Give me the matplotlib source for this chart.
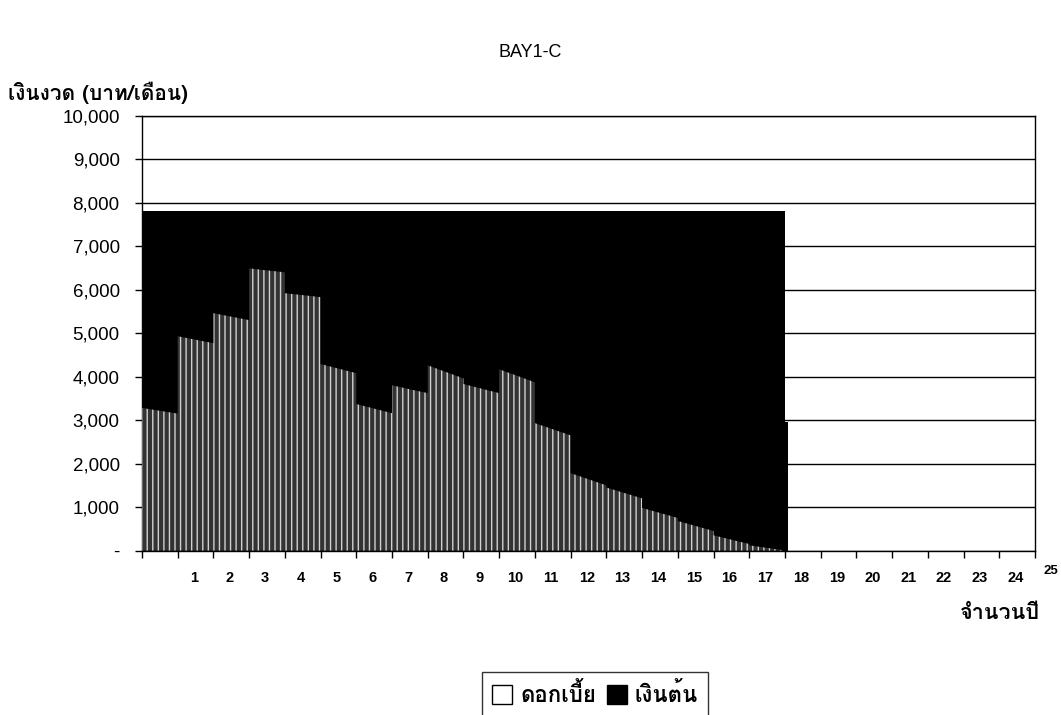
import numpy as np
import matplotlib
matplotlib.use('Agg')
import matplotlib.pyplot as plt
from matplotlib import font_manager, ft2font
from matplotlib.patches import Patch

# monthly payment split, read per year: interest at start and end of each year (baht/month)
years = np.arange(18)
interest_start = [3280, 4930, 5460, 6490, 5920, 4290, 3370, 3800, 4260, 3830, 4170, 2930, 1780, 1450, 980, 680, 350, 120]
interest_end = [3150, 4770, 5300, 6400, 5830, 4080, 3160, 3620, 3960, 3620, 3870, 2650, 1500, 1200, 750, 450, 150, 0]
payment = 7800          # fixed installment
last_payment = 2950     # final installment
loan_years = 18
x_labels = [str(k) for k in range(1, 26)]
y_ticks = np.arange(0, 10001, 1000)


def thai_font():
    # first installed face that carries Thai glyphs
    for f in font_manager.fontManager.ttflist:
        try:
            if 0x0E40 in ft2font.FT2Font(f.fname).get_charmap():
                return f.name
        except Exception:
            pass
    return 'DejaVu Sans'


thai = [thai_font(), 'Liberation Sans', 'DejaVu Sans']
plt.rcParams['font.family'] = ['Liberation Sans', 'DejaVu Sans']
plt.rcParams['hatch.linewidth'] = 1.0

fig = plt.figure(figsize=(10.61, 7.15), dpi=100)
ax = fig.add_axes([0.1338, 0.230, 0.8417, 0.608])

# principal (black) sits under the interest band
ax.fill_between([0, loan_years], [payment, payment], color='black', lw=0, zorder=2)
ax.fill_between([loan_years, loan_years + 1 / 12], [last_payment, last_payment],
                color='black', lw=0, zorder=2)

xs, ys = [], []
for i in years:
    xs += [i, i + 1]
    ys += [interest_start[i], interest_end[i]]
ax.fill_between(xs, ys, facecolor='#333333', edgecolor='#d0d0d0', hatch='|||',
                lw=0, zorder=3)

ax.set_xlim(0, 25)
ax.set_ylim(0, 10000)
ax.set_yticks(y_ticks)
ax.set_yticklabels(['-'] + [f'{v:,}' for v in y_ticks[1:]], fontsize=13.5)
ax.set_xticks(np.arange(0, 26))
ax.set_xticklabels([])
ax.tick_params(axis='both', direction='out', length=5, width=1, colors='black')
ax.tick_params(axis='y', pad=11)

ax.set_axisbelow(True)
ax.yaxis.grid(True, color='black', lw=1)
for s in ax.spines.values():
    s.set_color('black')
    s.set_linewidth(1)

# year labels sit right of each tick
for k, lab in enumerate(x_labels, start=1):
    yoff = -0.064 if k < 25 else -0.046
    ax.text(k + 0.45, yoff, lab, transform=ax.get_xaxis_transform(), ha='center',
            va='center', fontsize=10.5 if k < 25 else 9.5, fontweight='bold', clip_on=False)

fig.text(0.5, 0.926, 'BAY1-C', ha='center', va='center', fontsize=13)
fig.text(0.008, 0.870, 'เงินงวด (บาท/เดือน)', ha='left', va='center', fontsize=15,
         fontweight='bold', family=thai)
fig.text(0.980, 0.143, 'จำนวนปี', ha='right', va='center', fontsize=15.5,
         fontweight='bold', family=thai)

handles = [Patch(facecolor='white', edgecolor='black', lw=1),
           Patch(facecolor='black', edgecolor='black', lw=1)]
leg = fig.legend(handles, ['ดอกเบี้ย', 'เงินต้น'], loc='upper center',
                 bbox_to_anchor=(0.561, 0.060), ncol=2, frameon=True, fancybox=False,
                 edgecolor='black', handlelength=0.9, handleheight=0.9,
                 handletextpad=0.35, columnspacing=0.5, borderpad=0.45, borderaxespad=0,
                 prop={'family': thai, 'weight': 'bold', 'size': 16})
leg.get_frame().set_linewidth(1)

fig.savefig('out.png', dpi=100)
